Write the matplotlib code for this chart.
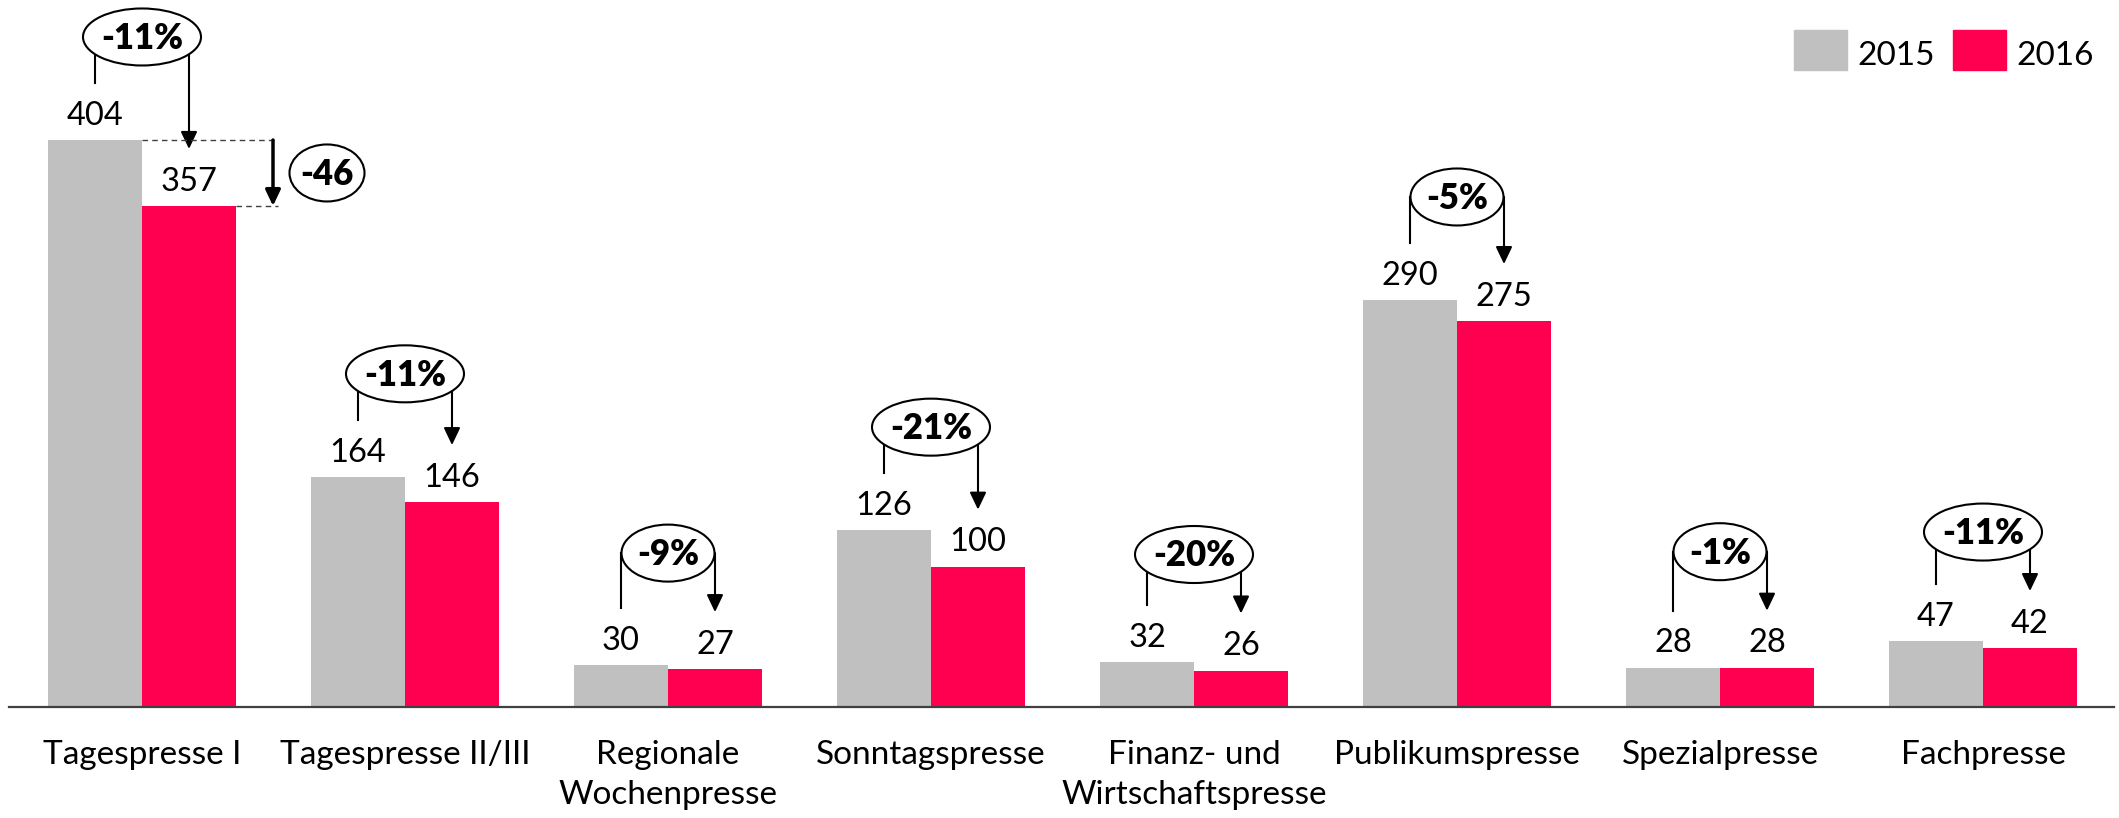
import matplotlib
matplotlib.use("Agg")
import matplotlib.pyplot as plt
from matplotlib.patches import Ellipse, Rectangle

plt.rcParams['font.family'] = ['Lato', 'DejaVu Sans']

# data
categories = ["Tagespresse I", "Tagespresse II/III", "Regionale\nWochenpresse", "Sonntagspresse",
              "Finanz- und\nWirtschaftspresse", "Publikumspresse", "Spezialpresse", "Fachpresse"]
v2015 = [404, 164, 30, 126, 32, 290, 28, 47]
v2016 = [357, 146, 27, 100, 26, 275, 28, 42]
pct_labels = ["-11%", "-11%", "-9%", "-21%", "-20%", "-5%", "-1%", "-11%"]
diff_label = "-46"   # absolute change shown for Tagespresse I
years = ["2015", "2016"]

GRAY = "#C0C0C0"
PINK = "#FF0050"

W, H = 2119, 818
fig = plt.figure(figsize=(W / 100, H / 100), dpi=100)

# axes geometry in pixels
ax_left, ax_right, ax_base = 9, 2114, 707
group_px = 263.0     # distance between groups
first_px = 142.0     # centre of first group
ppu = 1.4035         # pixels per unit on y

ax = fig.add_axes([ax_left / W, (H - ax_base) / H, (ax_right - ax_left) / W, ax_base / H])
ax.set_xlim((ax_left - first_px) / group_px, (ax_right - first_px) / group_px)
ax.set_ylim(0, ax_base / ppu)

def px_x(p):
    return p / group_px

def px_y(p):
    return p / ppu

w = px_x(94)
x = list(range(len(categories)))
xg = [i - w / 2 for i in x]
xp = [i + w / 2 for i in x]

ax.bar(xg, v2015, width=w, color=GRAY, zorder=2)
ax.bar(xp, v2016, width=w, color=PINK, zorder=2)

for i in x:
    g, p = v2015[i], v2016[i]
    ax.annotate(str(g), (xg[i], g), xytext=(0, 11), textcoords='offset points',
                ha='center', va='baseline', fontsize=23.5)
    ax.annotate(str(p), (xp[i], p), xytext=(0, 11), textcoords='offset points',
                ha='center', va='baseline', fontsize=23.5)

    # bracket with percent change
    top = max(g + px_y(103), p + px_y(116))
    ax.plot([xg[i], xg[i]], [g + px_y(57), top], color='black', lw=1.5, zorder=3)
    ax.annotate('', xy=(xp[i], p + px_y(57)), xytext=(xp[i], top),
                arrowprops=dict(arrowstyle='-|>,head_length=1.05,head_width=0.5',
                                lw=1.5, color='black', shrinkA=0, shrinkB=0), zorder=3)
    ew = 118 if len(pct_labels[i]) > 3 else 93
    ax.add_patch(Ellipse((i, top), px_x(ew), px_y(57), facecolor='white',
                         edgecolor='black', lw=1.5, zorder=4))
    ax.annotate(pct_labels[i], (i, top), xytext=(0, -8.5), textcoords='offset points',
                ha='center', va='baseline', fontsize=25, fontweight='heavy', zorder=5)

# absolute change for the first group
g0, p0 = v2015[0], v2016[0]
x_end = px_x(278 - first_px)
ax.plot([0, x_end], [g0, g0], color='#404040', lw=1, ls=(0, (4, 3)), zorder=3)
ax.plot([xp[0] + w / 2, x_end], [p0, p0], color='#404040', lw=1, ls=(0, (4, 3)), zorder=3)
xa = px_x(273 - first_px)
ax.annotate('', xy=(xa, p0), xytext=(xa, g0),
            arrowprops=dict(arrowstyle='-|>,head_length=0.95,head_width=0.45',
                            lw=2.5, color='black', shrinkA=0, shrinkB=0), zorder=3)
xe = px_x(327 - first_px)
ym = (g0 + p0) / 2
ax.add_patch(Ellipse((xe, ym), px_x(75), px_y(57), facecolor='white',
                     edgecolor='black', lw=1.5, zorder=4))
ax.annotate(diff_label, (xe, ym), xytext=(0, -8.5), textcoords='offset points',
            ha='center', va='baseline', fontsize=25, fontweight='heavy', zorder=5)

# axes styling
for s in ['top', 'left', 'right']:
    ax.spines[s].set_visible(False)
ax.spines['bottom'].set_color('#404040')
ax.spines['bottom'].set_linewidth(1.6)
ax.set_yticks([])
ax.set_xticks(x)
ax.set_xticklabels(categories, fontsize=24, linespacing=1.42)
ax.tick_params(axis='x', length=0, pad=24)

# legend drawn by hand
leg_x = [1794, 1953]
for k, (yr, col) in enumerate(zip(years, [GRAY, PINK])):
    fig.add_artist(Rectangle((leg_x[k] / W, (H - 70) / H), 53 / W, 40 / H,
                             transform=fig.transFigure, color=col))
    fig.text((leg_x[k] + 63) / W, (H - 65) / H, yr, fontsize=24, va='baseline', ha='left')

fig.savefig("out.png", dpi=100)
